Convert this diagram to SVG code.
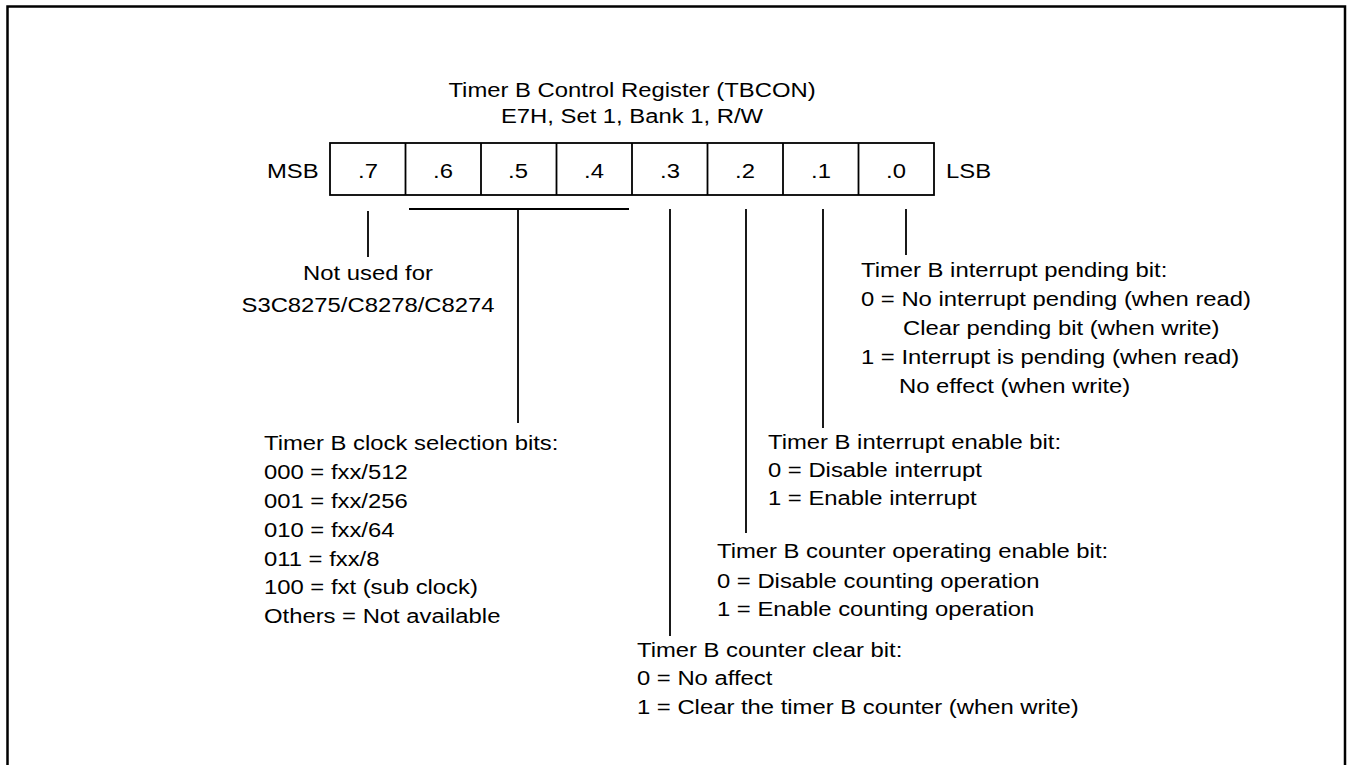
<svg xmlns="http://www.w3.org/2000/svg" width="1348" height="765" viewBox="0 0 1348 765">
<style>
text{font-family:"Liberation Sans",Arial,sans-serif;font-size:21px;fill:#000}
.c{text-anchor:middle}
.ln{stroke:#000;stroke-width:1.8;fill:none}
</style>
<rect width="1348" height="765" fill="#fff"/>
<path d="M7.5,765 V6.5 H1345 V765" fill="none" stroke="#000" stroke-width="2.5"/>
<g id="title">
<text class="c" transform="translate(632 97) scale(1.135 1)">Timer B Control Register (TBCON)</text>
<text class="c" transform="translate(632 123) scale(1.135 1)">E7H, Set 1, Bank 1, R/W</text>
</g>
<g id="register">
<rect x="330" y="143" width="604" height="52" class="ln"/>
<path class="ln" d="M405.5,143V195M481,143V195M556.5,143V195M632,143V195M707.5,143V195M783,143V195M858.5,143V195"/>
<text transform="translate(267 178) scale(1.135 1)">MSB</text>
<text transform="translate(946 178) scale(1.135 1)">LSB</text>
<text class="c" transform="translate(368 178) scale(1.135 1)">.7</text>
<text class="c" transform="translate(443 178) scale(1.135 1)">.6</text>
<text class="c" transform="translate(518 178) scale(1.135 1)">.5</text>
<text class="c" transform="translate(594 178) scale(1.135 1)">.4</text>
<text class="c" transform="translate(670 178) scale(1.135 1)">.3</text>
<text class="c" transform="translate(745 178) scale(1.135 1)">.2</text>
<text class="c" transform="translate(821 178) scale(1.135 1)">.1</text>
<text class="c" transform="translate(896 178) scale(1.135 1)">.0</text>
</g>
<g id="connectors">
<path class="ln" d="M368,211V257"/>
<path class="ln" d="M409,209H629M518,209V423"/>
<path class="ln" d="M670,209V636"/>
<path class="ln" d="M746,209V533"/>
<path class="ln" d="M823,209V428"/>
<path class="ln" d="M906,209V255"/>
</g>
<g id="bit7">
<text class="c" transform="translate(368 280) scale(1.135 1)">Not used for</text>
<text class="c" transform="translate(368 312) scale(1.135 1)">S3C8275/C8278/C8274</text>
</g>
<g id="bit0">
<text transform="translate(861 277) scale(1.135 1)">Timer B interrupt pending bit:</text>
<text transform="translate(861 306) scale(1.135 1)">0 = No interrupt pending (when read)</text>
<text transform="translate(903 335) scale(1.135 1)">Clear pending bit (when write)</text>
<text transform="translate(861 364) scale(1.135 1)">1 = Interrupt is pending (when read)</text>
<text transform="translate(899 393) scale(1.135 1)">No effect (when write)</text>
</g>
<g id="bit1">
<text transform="translate(768 449) scale(1.135 1)">Timer B interrupt enable bit:</text>
<text transform="translate(768 477) scale(1.135 1)">0 = Disable interrupt</text>
<text transform="translate(768 505) scale(1.135 1)">1 = Enable interrupt</text>
</g>
<g id="bits654">
<text transform="translate(264 450) scale(1.135 1)">Timer B clock selection bits:</text>
<text transform="translate(264 479) scale(1.135 1)">000 = fxx/512</text>
<text transform="translate(264 508) scale(1.135 1)">001 = fxx/256</text>
<text transform="translate(264 537) scale(1.135 1)">010 = fxx/64</text>
<text transform="translate(264 566) scale(1.135 1)">011 = fxx/8</text>
<text transform="translate(264 594) scale(1.135 1)">100 = fxt (sub clock)</text>
<text transform="translate(264 623) scale(1.135 1)">Others = Not available</text>
</g>
<g id="bit2">
<text transform="translate(717 558) scale(1.135 1)">Timer B counter operating enable bit:</text>
<text transform="translate(717 588) scale(1.135 1)">0 = Disable counting operation</text>
<text transform="translate(717 616) scale(1.135 1)">1 = Enable counting operation</text>
</g>
<g id="bit3">
<text transform="translate(637 657) scale(1.135 1)">Timer B counter clear bit:</text>
<text transform="translate(637 685) scale(1.135 1)">0 = No affect</text>
<text transform="translate(637 714) scale(1.135 1)">1 = Clear the timer B counter (when write)</text>
</g>
</svg>
